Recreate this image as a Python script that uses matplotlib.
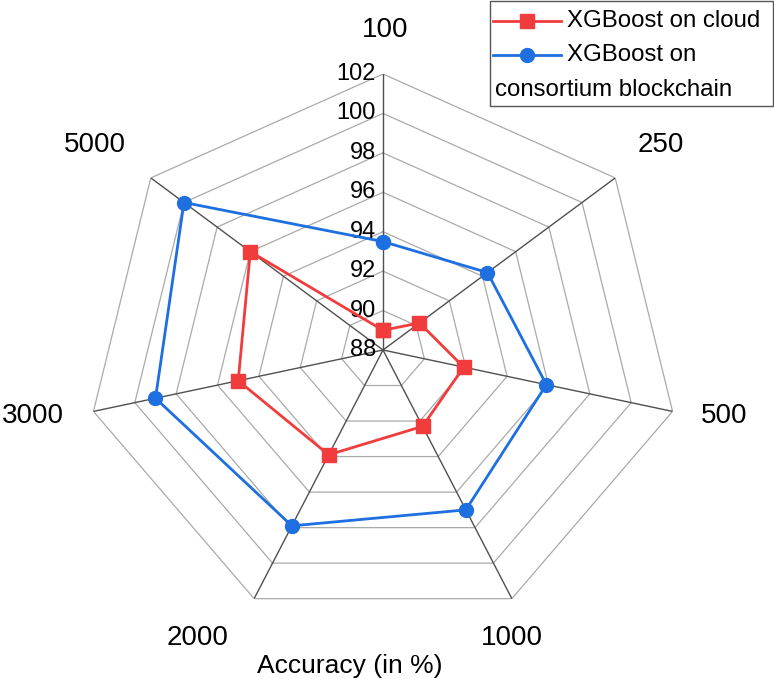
import matplotlib
matplotlib.use("Agg")
import matplotlib.pyplot as plt
import numpy as np
from matplotlib.lines import Line2D
from matplotlib.patches import Rectangle

plt.rcParams['font.family'] = ['Liberation Sans', 'DejaVu Sans']

# Datos del grafico
categorias = ['100', '250', '500', '1000', '2000', '3000', '5000']
nube = [89.0, 90.2, 91.9, 92.3, 93.9, 95.0, 96.0]
cadena = [93.5, 94.3, 95.9, 97.0, 97.9, 99.0, 100.0]
niveles = [88, 90, 92, 94, 96, 98, 100, 102]
series = ['XGBoost on cloud', 'XGBoost on', 'consortium blockchain']

rojo = '#F03C3C'
azul = '#1E6FE0'

W, H = 774, 679
fig = plt.figure(figsize=(W / 100, H / 100), dpi=100)

# Centro (383, 350) px, radios 297 x 276 px (figura estirada en horizontal)
cx, cy, rx, ry = 383, 350, 297, 276
ax = fig.add_axes([(cx - rx) / W, (H - cy - ry) / H, 2 * rx / W, 2 * ry / H],
                  projection='polar')
ax.set_aspect('auto')
ax.set_theta_zero_location('N')
ax.set_theta_direction(-1)
ax.set_ylim(niveles[0], niveles[-1])
ax.grid(False)
ax.spines['polar'].set_visible(False)
ax.set_xticks([])
ax.set_yticks([])
ax.patch.set_alpha(0)

n = len(categorias)
angulos = np.linspace(0, 2 * np.pi, n, endpoint=False)
ang_c = np.concatenate([angulos, angulos[:1]])

# Cuadricula poligonal
for nv in niveles[1:]:
    ax.plot(ang_c, [nv] * (n + 1), color='#aaaaaa', lw=0.9, zorder=1)
for a in angulos:
    ax.plot([a, a], [niveles[0], niveles[-1]], color='#505050', lw=1.0, zorder=1)

# Etiquetas radiales
for nv in niveles:
    ax.annotate(str(nv), xy=(0, nv), xytext=(-7, 0), textcoords='offset pixels',
                ha='right', va='center', fontsize=17, color='black')

# Etiquetas de categorias (desplazamiento en px desde el vertice exterior)
desp = [(2, 44), (46, 33), (52, -5), (0, -39), (-57, -39), (-61, -5), (-56, 33)]
for a, lab, (dx, dy) in zip(angulos, categorias, desp):
    ax.annotate(lab, xy=(a, niveles[-1]), xytext=(dx, dy), textcoords='offset pixels',
                ha='center', va='center', fontsize=20, color='black')

# Series
ax.plot(ang_c, nube + nube[:1], color=rojo, lw=2, marker='s', markersize=9.5,
        zorder=3, clip_on=False)
ax.plot(ang_c, cadena + cadena[:1], color=azul, lw=2, marker='o', markersize=10,
        zorder=3, clip_on=False)

fig.text(350 / W, 1 - 666 / H, 'Accuracy (in %)', ha='center', va='center', fontsize=19)

# Leyenda manual
def fx(px):
    return px / W

def fy(py):
    return 1 - py / H

fig.add_artist(Rectangle((fx(490), fy(106)), fx(773) - fx(490), fy(0) - fy(106) - 0.001,
                         transform=fig.transFigure, fill=False, edgecolor='#555555', lw=1))
for yy, col, mk, ms in [(21, rojo, 's', 9.5), (55, azul, 'o', 10)]:
    fig.add_artist(Line2D([fx(493), fx(561)], [fy(yy), fy(yy)], transform=fig.transFigure,
                          color=col, lw=2))
    fig.add_artist(Line2D([fx(527)], [fy(yy)], transform=fig.transFigure,
                          color=col, marker=mk, markersize=ms, linestyle='none'))
fig.text(fx(567), fy(21), series[0], ha='left', va='center', fontsize=17.3)
fig.text(fx(567), fy(55), series[1], ha='left', va='center', fontsize=17.3)
fig.text(fx(495), fy(90), series[2], ha='left', va='center', fontsize=17.3)

fig.savefig('out.png', dpi=100)
